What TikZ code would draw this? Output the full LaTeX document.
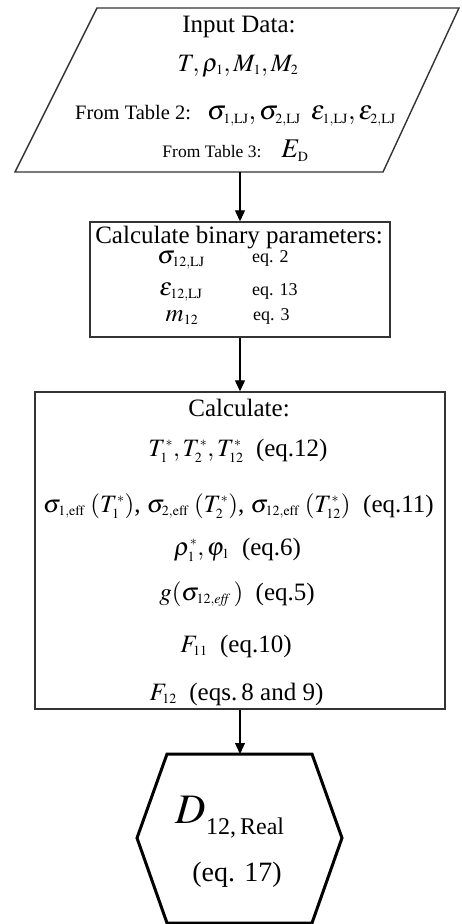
\documentclass[tikz,border=0pt]{standalone}
\usepackage{mathptmx}
\usepackage[no-math]{fontspec}
\setmainfont{Liberation Serif}
\usetikzlibrary{arrows.meta,positioning,calc}
\DeclareMathSizes{25}{25}{14}{10}
\DeclareMathSizes{27}{27}{14}{10}
\DeclareMathSizes{42}{42}{24}{17}

\tikzset{
  outline/.style={draw=black!80, line width=1.4pt},
  txt/.style={anchor=base, inner sep=0pt, font=\fontsize{25}{30}\selectfont},
  eqtxt/.style={font=\fontsize{18}{22}\selectfont},
  flow/.style={-{Triangle[width=10pt,length=11pt]}, line width=1.1pt},
}

\begin{document}
\begin{tikzpicture}[x=1pt, y=-1pt]
  \useasboundingbox (0,0) rectangle (462,924);
  % Input data
  \draw[outline] (97,8) -- (459,8) -- (383,172) -- (15,172) -- cycle;
  \coordinate (inbot) at (240,172);
  \node[txt] (inhead) at (239,32) {Input Data:};
  \node[txt] (invars) at (238,71) {$T,\rho_1,M_1,M_2$};
  \node[txt, font=\fontsize{27}{30}\selectfont] (intab2) at (235.5,119)
    {{\fontsize{20.5}{24}\selectfont From Table 2:}\hspace{16pt}$\sigma_{1,\mathrm{LJ}},\sigma_{2,\mathrm{LJ}}\hspace{10pt}\epsilon_{1,\mathrm{LJ}},\epsilon_{2,\mathrm{LJ}}$};
  \node[txt, font=\fontsize{27}{30}\selectfont] (intab3) at (235.5,157)
    {{\fontsize{17.5}{21}\selectfont From Table 3:}\hspace{20pt}$E_\mathrm{D}$};

  % Binary parameters
  \node[outline, minimum width=300pt, minimum height=115pt] (params) at (240,279.5) {};
  \node[txt] (parhead) at (239,243) {Calculate binary parameters:};
  \node[txt] (sig) at (181,263) {$\sigma_{12,\mathrm{LJ}}$};
  \node[txt, eqtxt, anchor=base west] (sigeq) at (252,262) {eq. 2};
  \node[txt] (eps) at (181,295) {$\epsilon_{12,\mathrm{LJ}}$};
  \node[txt, eqtxt, anchor=base west] (epseq) at (252,295) {eq. 13};
  \node[txt] (mass) at (182,321) {$m_{12}$};
  \node[txt, eqtxt, anchor=base west] (masseq) at (253,320) {eq. 3};

  % Calculate
  \node[outline, minimum width=410pt, minimum height=317pt] (calc) at (240,550.5) {};
  \node[txt] (calchead) at (239,416) {Calculate:};
  \node[txt] (redT) at (238,456) {$T_1^*, T_2^*, T_{12}^*$\ \ (eq.12)};
  \node[txt] (sigeff) at (238.5,512) {$\sigma_{1,\mathrm{eff}}\;(T_1^*)$, $\sigma_{2,\mathrm{eff}}\;(T_2^*)$, $\sigma_{12,\mathrm{eff}}\;(T_{12}^*)$\ \ (eq.11)};
  \node[txt] (rho) at (237.5,555) {$\rho_1^*, \varphi_1$\ \ (eq.6)};
  \node[txt] (gsig) at (237,600) {$g(\sigma_{12,\mathit{eff}}\,)$\ \ (eq.5)};
  \node[txt] (Fone) at (236,652) {$F_{11}$\ \ (eq.10)};
  \node[txt] (Ftwo) at (236.5,700) {$F_{12}$\ \ (eqs.\,8 and 9)};

  % Result
  \draw[outline, draw=black, line width=3pt] (167,754) -- (312,754) -- (342,838)
    -- (312,923) -- (167,923) -- (137,838) -- cycle;
  \coordinate (restop) at (240,754);
  \node[txt] (res) at (230,823)
    {\fontsize{42}{46}\selectfont$D$\raisebox{-11pt}{\fontsize{24}{28}\selectfont 12,\,Real}};
  \node[txt, font=\fontsize{28}{32}\selectfont] (reseq) at (237,881) {(eq. 17)};

  \draw[flow] (inbot) -- (params);
  \draw[flow] (params) -- (calc);
  \draw[flow] (calc) -- (restop);
\end{tikzpicture}
\end{document}
